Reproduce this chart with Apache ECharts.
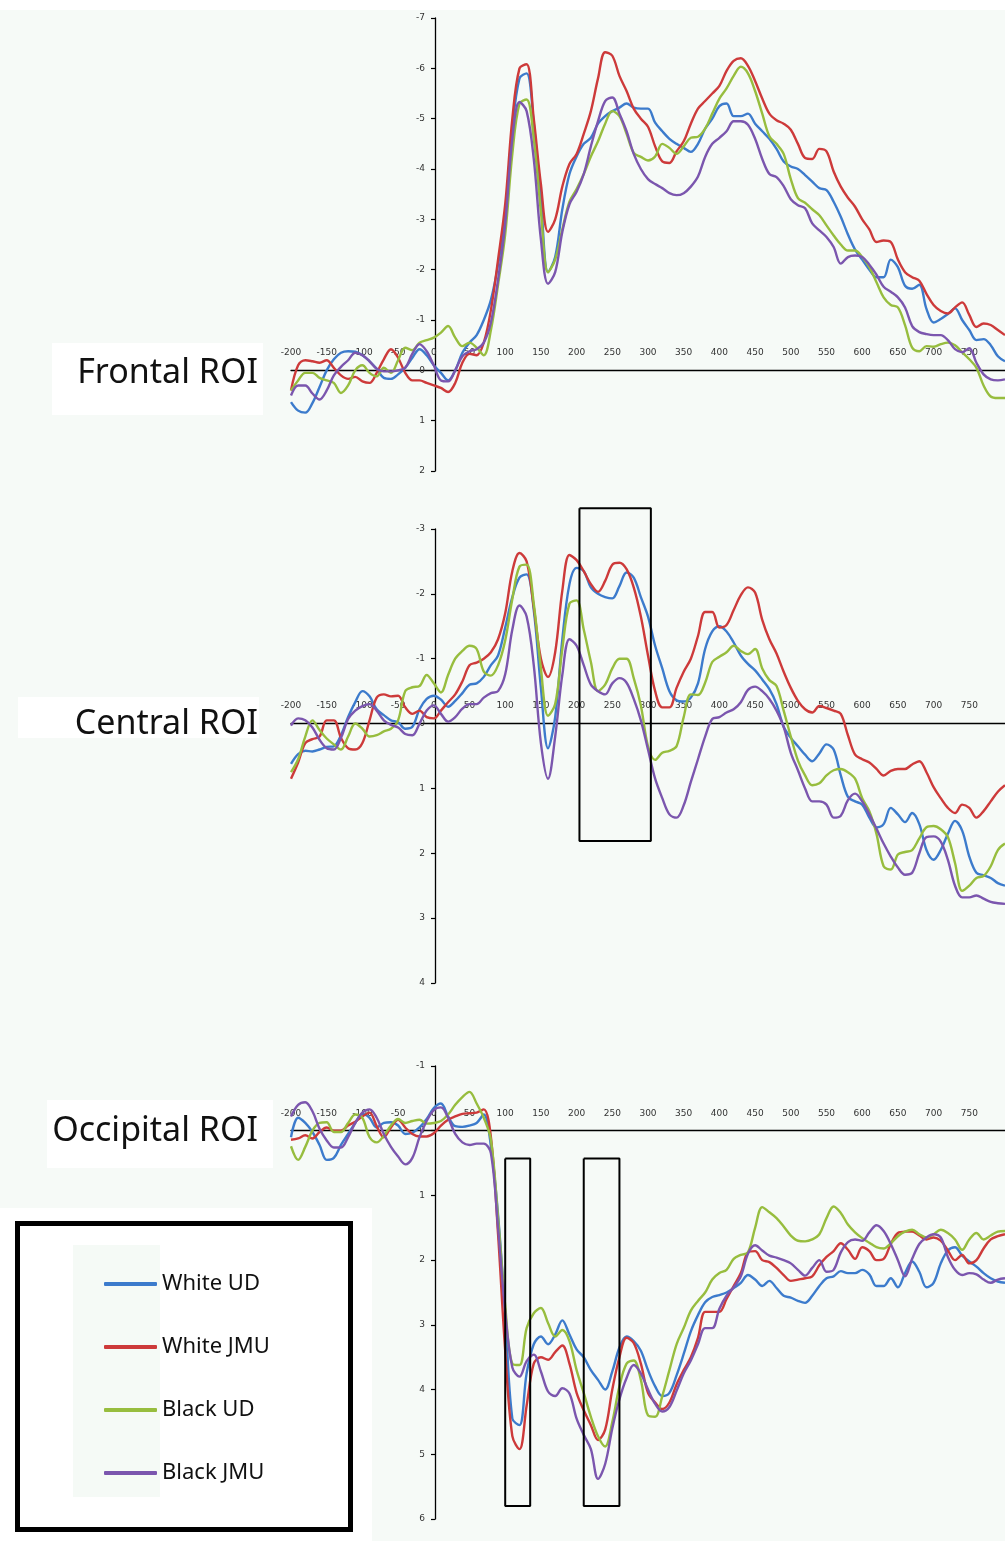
<!DOCTYPE html>
<html>
<head>
<meta charset="utf-8">
<title>ERP waveforms by ROI</title>
<script src="https://cdn.jsdelivr.net/npm/echarts@6/dist/echarts.min.js"></script>
<style>
  html, body { margin: 0; padding: 0; background: #ffffff; }
  #chart { width: 1005px; height: 1541px; }
</style>
</head>
<body>
<div id="chart"></div>
<script>
// Time points (ms), sampled every 10 ms from -200 to 800
const TIME_MS = [
  -200, -190, -180, -170, -160, -150, -140, -130, -120, -110,
  -100, -90, -80, -70, -60, -50, -40, -30, -20, -10,
  0, 10, 20, 30, 40, 50, 60, 70, 80, 90,
  100, 110, 120, 130, 140, 150, 160, 170, 180, 190,
  200, 210, 220, 230, 240, 250, 260, 270, 280, 290,
  300, 310, 320, 330, 340, 350, 360, 370, 380, 390,
  400, 410, 420, 430, 440, 450, 460, 470, 480, 490,
  500, 510, 520, 530, 540, 550, 560, 570, 580, 590,
  600, 610, 620, 630, 640, 650, 660, 670, 680, 690,
  700, 710, 720, 730, 740, 750, 760, 770, 780, 790,
  800
];

const GROUPS = ['White UD', 'White JMU', 'Black UD', 'Black JMU'];
const GROUP_COLORS = ['#3c7bcc', '#cd3a3a', '#97bd3e', '#7b56ae'];

// ---- Frontal ROI (µV) ----
const FRONTAL_WHITE_UD = [
  0.63, 0.8, 0.84, 0.65, 0.33, 0.0, -0.22, -0.35, -0.38, -0.37,
  -0.3, -0.18, -0.03, 0.15, 0.17, 0.08, -0.05, -0.25, -0.42, -0.3,
  -0.1, 0.05, 0.2, 0.0, -0.35, -0.55, -0.7, -1.0, -1.4, -2.1,
  -3.1, -4.8, -5.8, -5.9, -4.9, -3.4, -1.95, -2.25, -3.2, -3.9,
  -4.25, -4.5, -4.62, -4.9, -5.05, -5.15, -5.22, -5.3, -5.22, -5.2,
  -5.2, -4.92, -4.75, -4.6, -4.5, -4.42, -4.34, -4.5, -4.8, -5.0,
  -5.25, -5.3, -5.05, -5.05, -5.1, -4.9, -4.75, -4.6, -4.4, -4.15,
  -4.05, -4.0, -3.88, -3.75, -3.62, -3.58, -3.35, -3.05, -2.7, -2.4,
  -2.2, -2.0, -1.85, -1.85, -2.2, -2.05, -1.68, -1.62, -1.7, -1.22,
  -0.95, -1.02, -1.12, -1.23, -1.0, -0.8, -0.6, -0.62, -0.5, -0.28,
  -0.18
];
const FRONTAL_WHITE_JMU = [
  0.4, -0.1, -0.2, -0.18, -0.15, -0.2, -0.05, 0.1, 0.17, 0.13,
  0.22, 0.25, 0.05, -0.22, -0.42, -0.25, 0.05, 0.2, 0.2, 0.25,
  0.3, 0.35, 0.43, 0.25, -0.15, -0.33, -0.3, -0.55, -1.2, -2.2,
  -3.3, -5.0, -6.0, -6.08, -5.0, -3.7, -2.75, -3.0, -3.65, -4.1,
  -4.3, -4.7, -5.15, -5.8, -6.32, -6.25, -5.85, -5.55, -5.2, -5.0,
  -4.84, -4.45, -4.15, -4.12, -4.35, -4.55, -4.9, -5.2, -5.35, -5.5,
  -5.65, -5.95, -6.15, -6.2, -6.05, -5.75, -5.4, -5.1, -4.97, -4.9,
  -4.78, -4.5, -4.22, -4.2, -4.4, -4.35, -3.95, -3.65, -3.43, -3.25,
  -3.0, -2.8, -2.55, -2.58, -2.55, -2.2, -1.95, -1.85, -1.78, -1.52,
  -1.3, -1.18, -1.13, -1.25, -1.35, -1.1, -0.86, -0.93, -0.9, -0.8,
  -0.7
];
const FRONTAL_BLACK_UD = [
  0.4, 0.2, 0.05, 0.05, 0.15, 0.2, 0.25, 0.45, 0.3, 0.0,
  -0.1, 0.05, 0.12, -0.05, 0.05, -0.2, -0.45, -0.4, -0.55, -0.6,
  -0.65, -0.75, -0.88, -0.65, -0.48, -0.55, -0.45, -0.3, -0.8, -1.7,
  -2.7, -4.3, -5.3, -5.38, -4.6, -3.15, -1.95, -2.2, -2.8, -3.35,
  -3.6, -3.9, -4.25, -4.55, -4.9, -5.15, -5.05, -4.7, -4.32, -4.24,
  -4.17, -4.25, -4.5, -4.42, -4.3, -4.45, -4.62, -4.64, -4.8, -5.1,
  -5.4, -5.6, -5.85, -6.03, -5.9, -5.55, -5.1, -4.65, -4.5, -4.3,
  -3.8, -3.42, -3.33, -3.2, -3.08, -2.88, -2.68, -2.5, -2.38, -2.38,
  -2.25, -2.05, -1.75, -1.45, -1.3, -1.25, -0.9, -0.45, -0.38, -0.48,
  -0.47, -0.52, -0.55, -0.5, -0.36, -0.22, -0.05, 0.3, 0.52, 0.55,
  0.55
];
const FRONTAL_BLACK_JMU = [
  0.5, 0.3, 0.3, 0.46, 0.58, 0.4, 0.1, -0.07, -0.2, -0.35,
  -0.3, -0.18, -0.03, 0.02, 0.02, 0.0, -0.05, -0.33, -0.52, -0.38,
  -0.1, 0.2, 0.22, 0.0, -0.28, -0.38, -0.42, -0.55, -0.95, -1.8,
  -2.9, -4.6, -5.33, -5.15, -4.2, -2.6, -1.72, -1.95, -2.75, -3.3,
  -3.55, -3.9, -4.45, -4.95, -5.35, -5.42, -5.1, -4.75, -4.3, -4.0,
  -3.8, -3.7, -3.62, -3.52, -3.48, -3.52, -3.65, -3.85, -4.24, -4.5,
  -4.62, -4.75, -4.95, -4.95, -4.88, -4.6, -4.2, -3.9, -3.84, -3.66,
  -3.4, -3.28, -3.22, -2.92, -2.78, -2.65, -2.45, -2.12, -2.25, -2.28,
  -2.25, -2.1, -1.9, -1.66, -1.56, -1.45, -1.25, -0.88, -0.76, -0.72,
  -0.7, -0.7, -0.6, -0.42, -0.36, -0.44, -0.15, 0.08, 0.18, 0.2,
  0.18
];

// ---- Central ROI (µV) ----
const CENTRAL_WHITE_UD = [
  0.62, 0.47, 0.42, 0.43, 0.4, 0.36, 0.35, 0.18, -0.1, -0.33,
  -0.5, -0.42, -0.22, -0.13, -0.05, -0.02, 0.08, 0.05, -0.22, -0.38,
  -0.43, -0.37, -0.26, -0.35, -0.47, -0.6, -0.62, -0.72, -0.9, -1.05,
  -1.48, -1.95, -2.25, -2.3, -1.75, -0.55, 0.38, -0.1, -1.3, -2.15,
  -2.4, -2.35, -2.1, -2.0, -1.95, -1.93, -2.12, -2.33, -2.25, -1.95,
  -1.65, -1.2, -0.85, -0.5, -0.36, -0.34, -0.4, -0.62, -1.15, -1.42,
  -1.5, -1.42, -1.25, -1.05, -0.92, -0.82, -0.68, -0.53, -0.3, 0.05,
  0.22, 0.35, 0.48, 0.58, 0.46, 0.32, 0.4, 0.8, 1.13, 1.2,
  1.25, 1.45, 1.6, 1.55, 1.3, 1.4, 1.52, 1.38, 1.55, 1.95,
  2.1, 1.95, 1.7, 1.5, 1.65, 2.05, 2.3, 2.34, 2.38, 2.46,
  2.5
];
const CENTRAL_WHITE_JMU = [
  0.85, 0.6, 0.3, 0.24, 0.2, -0.05, -0.05, 0.22, 0.38, 0.4,
  0.3, -0.05, -0.4, -0.45, -0.42, -0.43, -0.25, -0.15, -0.2, -0.1,
  -0.08, -0.2, -0.33, -0.45, -0.65, -0.9, -0.94, -1.0, -1.1, -1.3,
  -1.7, -2.35, -2.63, -2.5, -1.8, -1.0, -0.72, -1.1, -2.05, -2.6,
  -2.52, -2.35, -2.15, -2.03, -2.2, -2.45, -2.48, -2.38, -2.1, -1.65,
  -1.05, -0.5, -0.25, -0.25, -0.55, -0.8, -1.0, -1.35, -1.72, -1.72,
  -1.48, -1.52, -1.75, -1.98, -2.1, -2.02, -1.6, -1.3, -1.08, -0.8,
  -0.55, -0.35, -0.22, -0.17, -0.27, -0.24, -0.2, -0.15, 0.18, 0.48,
  0.55, 0.6, 0.7, 0.8, 0.73, 0.7, 0.7, 0.63, 0.58, 0.75,
  0.98, 1.15, 1.3, 1.38, 1.25, 1.3, 1.45, 1.35, 1.2, 1.05,
  0.95
];
const CENTRAL_BLACK_UD = [
  0.75, 0.55, 0.2, -0.05, 0.1, 0.23, 0.32, 0.4, 0.2, 0.0,
  0.08, 0.2, 0.18, 0.12, 0.08, -0.05, -0.5, -0.56, -0.58, -0.75,
  -0.62, -0.48, -0.75, -1.0, -1.12, -1.2, -1.15, -0.8, -0.74, -0.9,
  -1.28, -1.92, -2.42, -2.45, -1.85, -0.85, -0.12, -0.3, -1.15, -1.85,
  -1.9, -1.45, -0.95, -0.5, -0.6, -0.85, -1.0, -1.0, -0.7, -0.28,
  0.35, 0.56, 0.45, 0.42, 0.35, -0.1, -0.45, -0.44, -0.63, -0.95,
  -1.03, -1.1, -1.2, -1.12, -1.07, -1.15, -0.85, -0.67, -0.58, -0.2,
  0.2, 0.57, 0.8, 0.95, 0.92, 0.8, 0.72, 0.7, 0.75, 0.85,
  1.15, 1.35, 1.7, 2.2, 2.25, 2.02, 1.98, 1.95, 1.77, 1.6,
  1.58, 1.63, 1.75, 2.15, 2.58, 2.5, 2.38, 2.35, 2.2, 1.95,
  1.85
];
const CENTRAL_BLACK_JMU = [
  0.03, -0.08, -0.05, 0.06, 0.25, 0.38, 0.4, 0.22, -0.07, -0.2,
  -0.27, -0.3, -0.2, -0.05, 0.02, 0.06, 0.16, 0.18, 0.0, -0.2,
  -0.28, -0.15, -0.03, -0.1, -0.23, -0.3, -0.3, -0.4, -0.47, -0.5,
  -0.76, -1.45, -1.82, -1.65, -0.9, 0.3, 0.85, 0.2, -0.75, -1.3,
  -1.2, -0.9, -0.6, -0.5, -0.45, -0.62, -0.7, -0.63, -0.38, -0.05,
  0.4, 0.85, 1.15, 1.4, 1.45, 1.26, 0.9, 0.55, 0.2, -0.07,
  -0.1, -0.17, -0.22, -0.33, -0.52, -0.57, -0.5, -0.38, -0.2, 0.05,
  0.45, 0.72, 1.0, 1.2, 1.2, 1.25, 1.45, 1.42, 1.18, 1.08,
  1.2, 1.4, 1.62, 1.85, 2.05, 2.22, 2.33, 2.3, 2.0, 1.75,
  1.74, 1.82, 2.1, 2.5, 2.68, 2.68, 2.65, 2.7, 2.75, 2.77,
  2.78
];

// ---- Occipital ROI (µV) ----
const OCCIPITAL_WHITE_UD = [
  0.1, -0.2, -0.12, 0.02, 0.22, 0.45, 0.42, 0.22, 0.05, -0.12,
  -0.26, -0.2, -0.05, -0.12, -0.13, -0.08, 0.05, 0.03, -0.05, -0.18,
  -0.35, -0.42, -0.22, -0.07, -0.06, -0.08, -0.12, -0.25, 0.24, 1.3,
  2.82, 4.45, 4.55, 3.75, 3.3, 3.18, 3.3, 3.15, 2.93, 3.15,
  3.38, 3.5, 3.7, 3.85, 4.0, 3.72, 3.35, 3.18, 3.25, 3.4,
  3.7, 3.95, 4.1, 4.05, 3.78, 3.45, 3.1, 2.85, 2.65, 2.57,
  2.54, 2.5, 2.43, 2.35, 2.23, 2.3, 2.4, 2.32, 2.43, 2.55,
  2.58, 2.63, 2.66, 2.55, 2.4, 2.28, 2.25, 2.17, 2.2, 2.2,
  2.15, 2.22, 2.4, 2.4, 2.28, 2.42, 2.2, 2.02, 2.18, 2.42,
  2.35, 2.05, 1.85, 1.8, 1.93, 2.02, 2.1, 2.2, 2.28, 2.33,
  2.35
];
const OCCIPITAL_WHITE_JMU = [
  0.14, 0.12, 0.07, 0.12, 0.02, -0.05, 0.0, 0.0, -0.08, -0.14,
  -0.22, -0.28, -0.07, 0.1, -0.05, -0.17, -0.05, 0.05, 0.09, 0.09,
  0.04, -0.08, -0.17, -0.22, -0.26, -0.27, -0.28, -0.33, 0.1, 1.6,
  3.4, 4.72, 4.92, 4.25, 3.6, 3.5, 3.54, 3.42, 3.32, 3.6,
  4.05, 4.32, 4.55, 4.78, 4.62, 4.0, 3.5, 3.2, 3.28, 3.6,
  4.05, 4.2, 4.3, 4.2, 3.92, 3.7, 3.5, 3.2, 2.8, 2.8,
  2.8, 2.6, 2.4, 2.2, 1.88, 1.86, 2.0, 2.03, 2.12, 2.23,
  2.32, 2.3, 2.28, 2.25, 2.08, 1.95, 1.86, 1.74, 1.84, 1.98,
  1.8, 1.86, 2.0, 1.98, 1.75, 1.58, 1.56, 1.56, 1.62, 1.68,
  1.65, 1.7, 1.85, 2.0, 1.92, 2.05, 2.0, 1.82, 1.68, 1.63,
  1.6
];
const OCCIPITAL_BLACK_UD = [
  0.24, 0.45, 0.25, 0.0, -0.12, -0.13, 0.02, 0.02, -0.12, -0.25,
  -0.2, 0.1, 0.18, 0.08, -0.08, -0.18, -0.12, -0.15, -0.17, -0.11,
  -0.12, -0.15, -0.25, -0.4, -0.52, -0.6, -0.42, -0.2, 0.14, 1.35,
  2.7, 3.6, 3.62, 3.05, 2.82, 2.74, 2.97, 3.18, 3.08, 3.25,
  3.7, 4.05, 4.42, 4.72, 4.88, 4.5, 3.95, 3.6, 3.55, 3.85,
  4.4, 4.42, 4.1, 3.7, 3.3, 3.05, 2.78, 2.63, 2.5, 2.3,
  2.2, 2.15, 1.98, 1.92, 1.88, 1.5, 1.18, 1.26, 1.35, 1.48,
  1.62, 1.7, 1.71, 1.68, 1.6, 1.35, 1.17, 1.27, 1.45, 1.57,
  1.66, 1.73, 1.8, 1.82, 1.74, 1.63, 1.56, 1.53, 1.6, 1.65,
  1.6, 1.53, 1.58, 1.68, 1.84, 1.68, 1.58, 1.68, 1.62, 1.56,
  1.55
];
const OCCIPITAL_BLACK_JMU = [
  -0.22, -0.4, -0.44, -0.3, -0.03, 0.15, 0.26, 0.26, 0.1, -0.12,
  -0.28, -0.33, -0.2, 0.05, 0.25, 0.4, 0.52, 0.42, 0.1, -0.15,
  -0.32, -0.36, -0.2, 0.05, 0.18, 0.22, 0.2, 0.2, 0.35, 1.5,
  2.8, 3.66, 3.8, 3.56, 3.46, 3.72, 4.03, 4.1, 3.98, 4.06,
  4.45, 4.7, 4.92, 5.38, 5.15, 4.6, 4.15, 3.82, 3.62, 3.75,
  4.0, 4.22, 4.34, 4.27, 4.02, 3.75, 3.55, 3.3, 3.05, 3.05,
  2.75, 2.55, 2.42, 2.25, 1.9, 1.77, 1.85, 1.93, 1.96, 2.0,
  2.05, 2.15, 2.24, 2.12, 2.0, 2.18, 2.15, 1.88, 1.72, 1.68,
  1.7, 1.57, 1.46, 1.55, 1.75, 2.0, 2.25, 1.98, 1.75, 1.65,
  1.6, 1.65, 1.95, 2.15, 2.23, 2.2, 2.22, 2.3, 2.35, 2.3,
  2.28
];

// Highlighted analysis windows: [start ms, end ms, top µV, bottom µV]
const CENTRAL_WINDOWS = [[204, 304, -3.32, 1.81]];
const OCCIPITAL_WINDOWS = [[100, 135, 0.43, 5.8], [210, 260, 0.43, 5.8]];

// Panel titles and axis ranges
const PANEL_TITLES = ['Frontal ROI', 'Central ROI', 'Occipital ROI'];
const PANEL_Y_RANGES = [[-7, 2], [-3, 4], [-1, 6]];
const TIME_RANGE = [-200, 800];

const PANELS = [
  [FRONTAL_WHITE_UD, FRONTAL_WHITE_JMU, FRONTAL_BLACK_UD, FRONTAL_BLACK_JMU],
  [CENTRAL_WHITE_UD, CENTRAL_WHITE_JMU, CENTRAL_BLACK_UD, CENTRAL_BLACK_JMU],
  [OCCIPITAL_WHITE_UD, OCCIPITAL_WHITE_JMU, OCCIPITAL_BLACK_UD, OCCIPITAL_BLACK_JMU]
];
const PANEL_WINDOWS = [[], CENTRAL_WINDOWS, OCCIPITAL_WINDOWS];

// ---- layout ----
const GRID_BOXES = [
  { left: 291, width: 720, top: 18, height: 453 },
  { left: 291, width: 720, top: 529, height: 454 },
  { left: 291, width: 720, top: 1066, height: 453 }
];
const TITLE_BOXES = [
  { x: 52, y: 343, w: 211, h: 72, textY: 373 },
  { x: 18, y: 697, w: 241, h: 41, textY: 724 },
  { x: 47, y: 1100, w: 226, h: 68, textY: 1131 }
];

const AXIS_FONT = { fontFamily: 'DejaVu Sans', fontSize: 9, color: '#333333' };

const grid = GRID_BOXES.map(b => Object.assign({ containLabel: false }, b));

// The time axis sits on the 0 µV line and the voltage axis on the 0 ms line:
// both are shifted into the plot with an inward offset.
const xAxis = GRID_BOXES.map((b, i) => {
  const [lo, hi] = PANEL_Y_RANGES[i];
  const zeroFromTop = b.height * (0 - lo) / (hi - lo);
  return {
    gridIndex: i,
    type: 'value',
    min: TIME_RANGE[0],
    max: TIME_RANGE[1],
    interval: 50,
    position: 'top',
    offset: -zeroFromTop,
    axisLine: { onZero: false, lineStyle: { color: '#000000', width: 1.3 } },
    axisTick: { show: false },
    axisLabel: Object.assign({ margin: 13, showMaxLabel: false }, AXIS_FONT),
    splitLine: { show: false }
  };
});

const yAxis = PANEL_Y_RANGES.map((r, i) => {
  const b = GRID_BOXES[i];
  const zeroFromLeft = b.width * (0 - TIME_RANGE[0]) / (TIME_RANGE[1] - TIME_RANGE[0]);
  return {
    gridIndex: i,
    type: 'value',
    inverse: true,
    min: r[0],
    max: r[1],
    interval: 1,
    position: 'left',
    offset: -zeroFromLeft,
    axisLine: { onZero: false, lineStyle: { color: '#000000', width: 1.3 } },
    axisTick: { show: true, length: 4, lineStyle: { color: '#000000', width: 1.2 } },
    axisLabel: Object.assign({ margin: 10 }, AXIS_FONT),
    splitLine: { show: false }
  };
});

const series = [];
PANELS.forEach((panel, p) => {
  panel.forEach((values, g) => {
    series.push({
      name: GROUPS[g],
      type: 'line',
      xAxisIndex: p,
      yAxisIndex: p,
      data: TIME_MS.map((t, k) => [t, values[k]]),
      showSymbol: false,
      smooth: 0.35,
      color: GROUP_COLORS[g],
      lineStyle: { color: GROUP_COLORS[g], width: 2.4 },
      silent: true,
      z: 3
    });
  });
  PANEL_WINDOWS[p].forEach(w => {
    const [t0, t1, v0, v1] = w;
    series.push({
      name: 'window',
      type: 'line',
      xAxisIndex: p,
      yAxisIndex: p,
      data: [[t0, v0], [t1, v0], [t1, v1], [t0, v1], [t0, v0]],
      showSymbol: false,
      clip: false,
      color: '#000000',
      lineStyle: { color: '#000000', width: 2 },
      silent: true,
      z: 4
    });
  });
});

const graphic = [
  // white band along the top edge
  { type: 'rect', shape: { x: 0, y: 0, width: 1005, height: 10 }, style: { fill: '#ffffff' }, z: 0, silent: true },
  // legend panel
  { type: 'rect', shape: { x: 0, y: 1208, width: 372, height: 333 }, style: { fill: '#ffffff' }, z: 0, silent: true },
  { type: 'rect', shape: { x: 73, y: 1245, width: 87, height: 252 }, style: { fill: '#f5faf6' }, z: 1, silent: true },
  { type: 'rect', shape: { x: 17.5, y: 1223.5, width: 333, height: 306 }, style: { fill: null, stroke: '#000000', lineWidth: 5 }, z: 1, silent: true }
];
TITLE_BOXES.forEach((b, i) => {
  graphic.push({ type: 'rect', shape: { x: b.x, y: b.y, width: b.w, height: b.h }, style: { fill: '#ffffff' }, z: 0, silent: true });
  graphic.push({
    type: 'text',
    x: 258, y: b.textY,
    style: {
      text: PANEL_TITLES[i],
      fontFamily: 'Noto Sans',
      fontSize: 34,
      fill: '#111111',
      align: 'right',
      verticalAlign: 'middle'
    },
    z: 2, silent: true
  });
});

const chart = echarts.init(document.getElementById('chart'), null, { renderer: 'canvas' });
chart.setOption({
  backgroundColor: '#f6faf7',
  animation: false,
  grid,
  xAxis,
  yAxis,
  series,
  legend: {
    data: GROUPS,
    orient: 'vertical',
    left: 104,
    top: 1272,
    padding: 0,
    itemWidth: 53,
    itemHeight: 4,
    itemGap: 39,
    icon: 'roundRect',
    selectedMode: false,
    textStyle: { fontFamily: 'Noto Sans', fontSize: 22, color: '#111111', lineHeight: 24 }
  },
  graphic
});
</script>
</body>
</html>
